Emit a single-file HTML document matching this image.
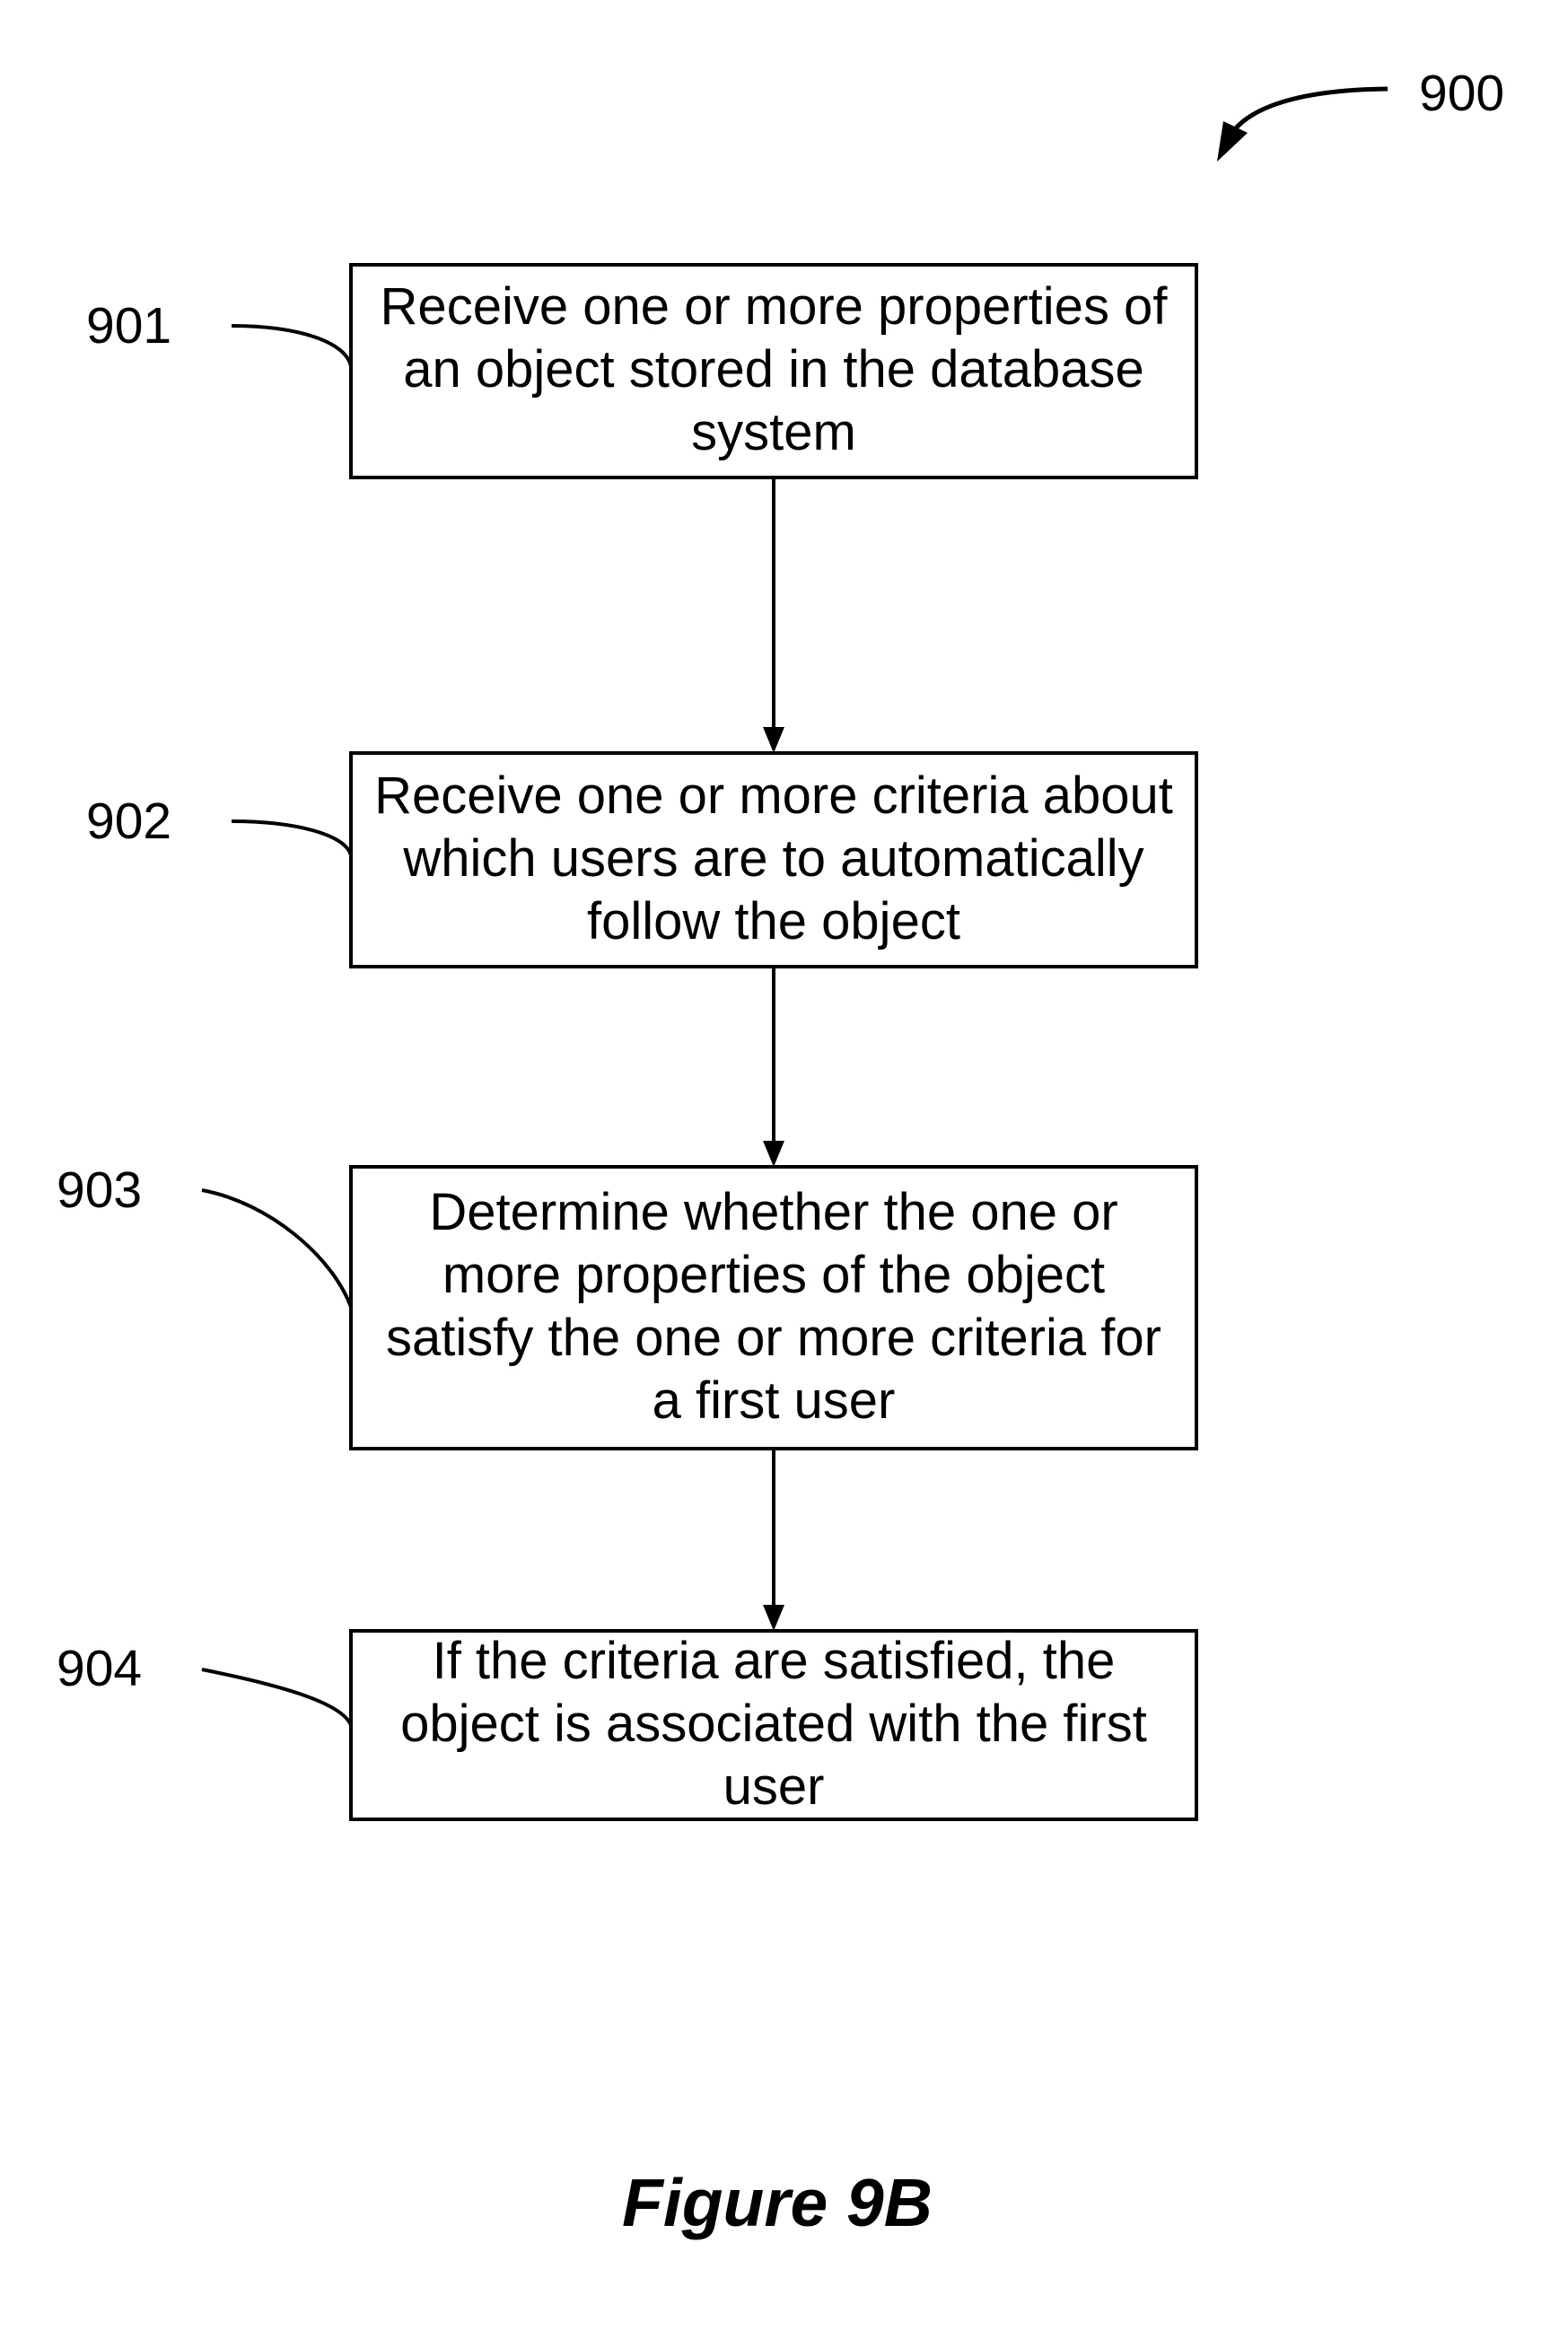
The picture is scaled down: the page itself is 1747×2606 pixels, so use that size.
<!DOCTYPE html>
<html><head><style>
html,body{margin:0;padding:0;background:#fff;}
svg{display:block;}
text{font-family:"Liberation Sans",Arial,sans-serif;fill:#000;}
</style></head><body>
<svg width="1747" height="2606" viewBox="0 0 1747 2606" xmlns="http://www.w3.org/2000/svg">
<g fill="none" stroke="#000" stroke-width="4">
<rect x="391" y="295" width="942" height="237"/>
<rect x="391" y="839" width="942" height="238"/>
<rect x="391" y="1300" width="942" height="314"/>
<rect x="391" y="1817" width="942" height="210"/>
<line x1="862" y1="532" x2="862" y2="812"/>
<line x1="862" y1="1077" x2="862" y2="1273"/>
<line x1="862" y1="1614" x2="862" y2="1790"/>
<path d="M258,363 C330,363 385,380 391,408"/>
<path d="M258,915 C330,915 385,930 391,953"/>
<path d="M225,1326 C300,1340 370,1400 391,1456"/>
<path d="M225,1860 C300,1875 380,1895 391,1922"/>
<path d="M1546,99 C1460,100 1400,115 1375,145" stroke-width="5"/>
</g>
<g fill="#000">
<polygon points="850,810 874,810 862,839"/>
<polygon points="850,1271 874,1271 862,1300"/>
<polygon points="850,1788 874,1788 862,1817"/>
<polygon points="1363,135 1390,148 1356,180"/>
</g>
<g font-size="58" text-anchor="middle">
<text x="862" y="361">Receive one or more properties of</text>
<text x="862" y="431">an object stored in the database</text>
<text x="862" y="501">system</text>
<text x="862" y="906">Receive one or more criteria about</text>
<text x="862" y="976">which users are to automatically</text>
<text x="862" y="1046">follow the object</text>
<text x="862" y="1370">Determine whether the one or</text>
<text x="862" y="1440">more properties of the object</text>
<text x="862" y="1510">satisfy the one or more criteria for</text>
<text x="862" y="1580">a first user</text>
<text x="862" y="1870">If the criteria are satisfied, the</text>
<text x="862" y="1940">object is associated with the first</text>
<text x="862" y="2010">user</text>
</g>
<g font-size="57">
<text x="96" y="382">901</text>
<text x="96" y="934">902</text>
<text x="63" y="1345">903</text>
<text x="63" y="1878">904</text>
<text x="1581" y="123">900</text>
</g>
<text x="866" y="2480" font-size="75" font-weight="bold" font-style="italic" text-anchor="middle">Figure 9B</text>
</svg>
</body></html>
